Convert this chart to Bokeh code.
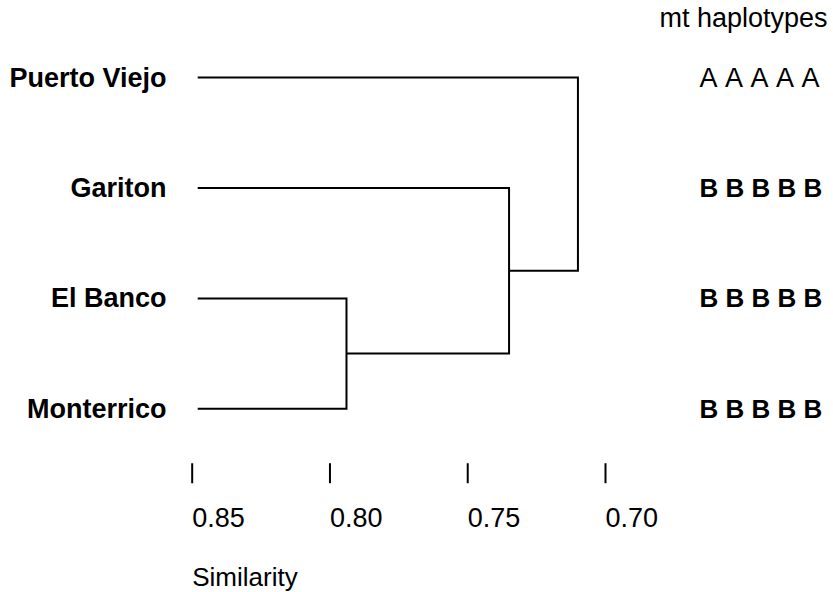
from bokeh.plotting import figure
from bokeh.models import Range1d
from bokeh.core.properties import value
from bokeh.embed import file_html
from bokeh.resources import INLINE

# ---- data ----
leaves = ["Puerto Viejo", "Gariton", "El Banco", "Monterrico"]
leaf_order = [3, 2, 1, 0]          # vertical order, top = 3
leaf_similarity = 0.848            # where leaf branches start
# merges: (left member, right member, similarity at join)
merges = [
    ("El Banco", "Monterrico", 0.794),
    ("Gariton", "C1", 0.735),
    ("Puerto Viejo", "C2", 0.710),
]
haplotypes = ["A A A A A", "B B B B B", "B B B B B", "B B B B B"]
tick_values = [0.85, 0.80, 0.75, 0.70]
tick_labels = ["0.85", "0.80", "0.75", "0.70"]
axis_title = "Similarity"
hap_title = "mt haplotypes"

FONT = "Liberation Sans"
NBSP = "\u00a0"

p = figure(width=833, height=592, output_backend="svg", toolbar_location=None,
           x_range=Range1d(0.91957, 0.61725), y_range=Range1d(-1.6639, 3.6984),
           x_axis_location=None, y_axis_location=None,
           min_border_left=0, min_border_right=0, min_border_top=0,
           min_border_bottom=0)
p.outline_line_color = None
p.grid.visible = False
p.background_fill_color = "white"
p.border_fill_color = "white"

# ---- dendrogram ----
nodes = {name: (leaf_similarity, yy) for name, yy in zip(leaves, leaf_order)}
xs, ys = [], []
for i, (a, b, h) in enumerate(merges):
    ax_, ay = nodes[a]
    bx, by = nodes[b]
    xs.append([ax_, h, h, bx])
    ys.append([ay, ay, by, by])
    nodes["C%d" % (i + 1)] = (h, (ay + by) / 2)
p.multi_line(xs=xs, ys=ys, line_color="black", line_width=2, line_join="miter")

# ---- leaf labels ----
p.text(x=[0.8593] * len(leaves), y=leaf_order, text=leaves,
       text_font=value(FONT), text_font_style="bold", text_font_size="27px",
       text_align="right", text_baseline="middle", text_color="black")

# ---- haplotypes ----
a_rows = [i for i, h in enumerate(haplotypes) if h.startswith("A")]
b_rows = [i for i, h in enumerate(haplotypes) if not h.startswith("A")]
p.text(x=[0.66589] * len(a_rows), y=[leaf_order[i] for i in a_rows],
       text=[haplotypes[i].replace(" ", NBSP) for i in a_rows],
       text_font=value(FONT), text_font_size="27px",
       text_align="left", text_baseline="middle", text_color="black")
p.text(x=[0.66589] * len(b_rows), y=[leaf_order[i] for i in b_rows],
       text=[haplotypes[i] for i in b_rows],
       text_font=value(FONT), text_font_style="bold", text_font_size="26px",
       text_align="left", text_baseline="middle", text_color="black")
p.text(x=[0.6804], y=[3.540], text=[hap_title],
       text_font=value(FONT), text_font_size="27px",
       text_align="left", text_baseline="middle", text_color="black")

# ---- similarity scale: tick marks, labels, title ----
p.segment(x0=tick_values, x1=tick_values,
          y0=[-0.4928] * len(tick_values), y1=[-0.6739] * len(tick_values),
          line_color="black", line_width=2)
p.text(x=tick_values, y=[-0.9801] * len(tick_values), text=tick_labels,
       text_font=value(FONT), text_font_size="27px",
       text_align="left", text_baseline="middle", text_color="black")
p.text(x=[tick_values[0]], y=[-1.527], text=[axis_title],
       text_font=value(FONT), text_font_size="26px",
       text_align="left", text_baseline="middle", text_color="black")

open("out.html", "w").write(file_html(p, INLINE))
